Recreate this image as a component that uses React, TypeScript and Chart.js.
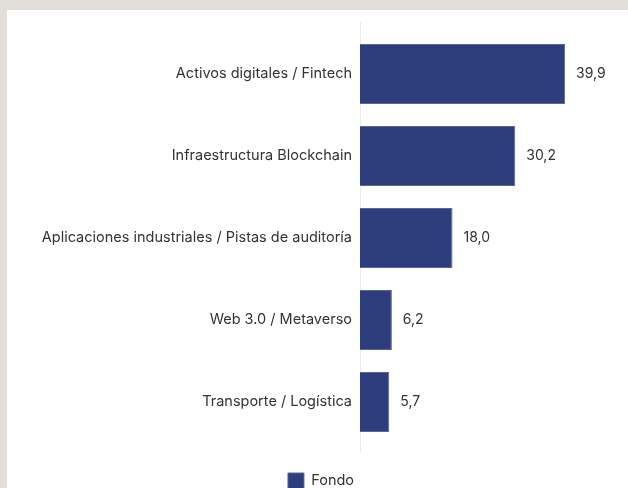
import React, { useEffect, useRef } from "react";
import { Chart, registerables } from "chart.js";

Chart.register(...registerables);

const categories = [
  "Activos digitales / Fintech",
  "Infraestructura Blockchain",
  "Aplicaciones industriales / Pistas de auditoría",
  "Web 3.0 / Metaverso",
  "Transporte / Logística",
];
const seriesName = "Fondo";
const fondoValues = [39.9, 30.2, 18.0, 6.2, 5.7];

const FONT = "Inter, 'DejaVu Sans', sans-serif";
const FS = 14.5;

const valueLabels = {
  id: "valueLabels",
  afterDatasetsDraw(chart: any) {
    const ctx = chart.ctx;
    const meta = chart.getDatasetMeta(0);
    ctx.save();
    ctx.font = `14px ${FONT}`;
    ctx.fillStyle = "#333333";
    ctx.textAlign = "left";
    ctx.textBaseline = "middle";
    meta.data.forEach((bar: any, i: number) => {
      const v = chart.data.datasets[0].data[i] as number;
      ctx.fillText(v.toFixed(1).replace(".", ","), bar.x + 11, bar.y);
    });
    ctx.restore();
  },
};

const axisLine = {
  id: "axisLine",
  beforeDatasetsDraw(chart: any) {
    const { ctx, chartArea } = chart;
    const x = chart.scales.x.getPixelForValue(0);
    ctx.save();
    ctx.strokeStyle = "#ebebeb";
    ctx.lineWidth = 1;
    ctx.beginPath();
    ctx.moveTo(x + 0.5, chartArea.top - 11);
    ctx.lineTo(x + 0.5, chartArea.bottom + 10);
    ctx.stroke();
    ctx.restore();
  },
};

const legendShift = {
  id: "legendShift",
  afterLayout(chart: any) {
    if (chart.legend) {
      chart.legend.left += 9;
      chart.legend.right += 9;
    }
  },
};

export default function App() {
  const ref = useRef<HTMLCanvasElement>(null);
  useEffect(() => {
    document.body.style.margin = "0";
    const chart = new Chart(ref.current!, {
      type: "bar",
      data: {
        labels: categories,
        datasets: [
          {
            label: seriesName,
            data: fondoValues,
            backgroundColor: "#2e3d7c",
            borderColor: "#5566a0",
            borderWidth: 1,
            categoryPercentage: 0.73,
            barPercentage: 1,
          },
        ],
      },
      options: {
        indexAxis: "y",
        animation: false,
        responsive: false,
        maintainAspectRatio: false,
        layout: { padding: { top: 23, right: 11, left: 0, bottom: 0 } },
        scales: {
          x: {
            display: false,
            min: 0,
            max: 50,
          },
          y: {
            grid: { display: false },
            border: { display: false },
            ticks: {
              color: "#333333",
              font: { family: FONT, size: FS },
              padding: 0,
            },
            afterFit(scale: any) {
              scale.width = 353;
            },
          },
        },
        plugins: {
          legend: {
            position: "bottom",
            labels: {
              color: "#333333",
              font: { family: FONT, size: FS },
              boxWidth: 16,
              boxHeight: 16,
              padding: 30,
            },
          },
          tooltip: { enabled: false },
        },
      },
      plugins: [valueLabels, axisLine, legendShift],
    });
    return () => chart.destroy();
  }, []);

  return (
    <div
      style={{
        position: "relative",
        width: 628,
        height: 488,
        overflow: "hidden",
        background: "#e2deda",
      }}
    >
      <div
        style={{
          position: "absolute",
          left: 7,
          top: 10,
          width: 621,
          height: 489,
          background: "#ffffff",
        }}
      >
        <canvas ref={ref} width={621} height={489} style={{ display: "block" }} />
      </div>
    </div>
  );
}
